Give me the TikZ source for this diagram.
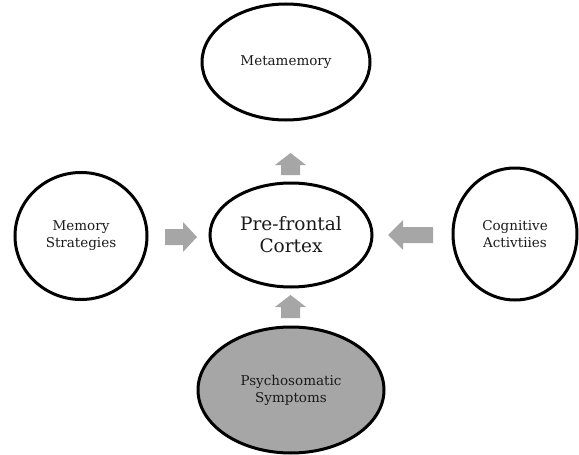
\documentclass[tikz,border=0pt]{standalone}
\usepackage{fontspec}
\setmainfont{DejaVu Serif}
\usetikzlibrary{shapes.geometric}
\definecolor{arrowgray}{HTML}{A6A6A6}
\definecolor{txt}{HTML}{1A1A1A}
\tikzset{
  bubble/.style={ellipse, draw=black, line width=3pt, inner sep=0pt, align=center, text=txt, font=\fontsize{13.5}{17}\selectfont},
  blockarrow/.style={fill=arrowgray, draw=none},
}
\begin{document}
\begin{tikzpicture}[x=1pt,y=-1pt]
\useasboundingbox (0,0) rectangle (579,455);
\node[bubble, minimum width=168pt, minimum height=116pt] (meta) at (286,62) {Metamemory};
\node[bubble, minimum width=162pt, minimum height=104pt, font=\fontsize{18.5}{22}\selectfont] (pfc) at (291,235) {Pre-frontal\\Cortex};
\node[bubble, minimum width=132pt, minimum height=127pt] (mem) at (81,236) {Memory\\Strategies};
\node[bubble, minimum width=124pt, minimum height=132pt] (cog) at (515,234) {Cognitive\\Activtiies};
\node[bubble, fill=arrowgray, minimum width=186pt, minimum height=126pt] (psy) at (291,390) {Psychosomatic\\Symptoms};
% block arrows
\fill[blockarrow] (281,175) -- (281,165) -- (275,165) -- (290.5,153) -- (306,165) -- (300,165) -- (300,175) -- cycle;
\fill[blockarrow] (281,318) -- (281,307) -- (275,307) -- (290.5,295) -- (306,307) -- (300,307) -- (300,318) -- cycle;
\fill[blockarrow] (165,229) -- (183,229) -- (183,222) -- (197,237) -- (183,252) -- (183,245) -- (165,245) -- cycle;
\fill[blockarrow] (433,227) -- (403,227) -- (403,220) -- (388,235) -- (403,250) -- (403,243) -- (433,243) -- cycle;
\end{tikzpicture}
\end{document}
